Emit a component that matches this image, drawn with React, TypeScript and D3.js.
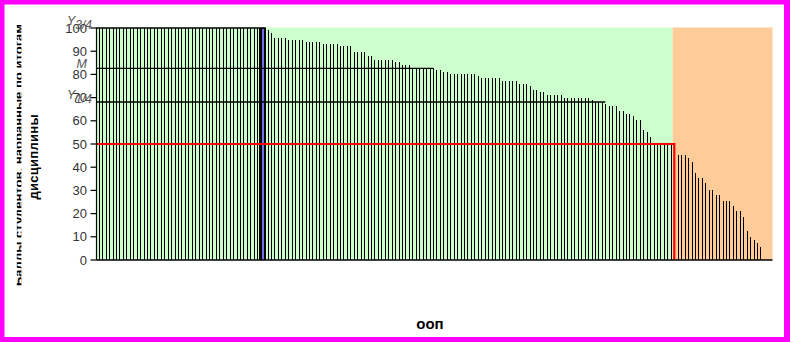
import React from "react";
import * as d3 from "d3";

// ---- data ----
const nCategories = 196;
// runs of [value, count], in order (sorted descending)
const valueRuns: [number, number][] = [
  [100, 49], [99, 1], [98, 1], [95.8, 4], [94.8, 5], [94.0, 5], [93.1, 5], [92.2, 4],
  [89.7, 4], [87.9, 2], [86.2, 6], [85.3, 2], [84.2, 3], [82.8, 7], [81.9, 2], [81.0, 2],
  [80.2, 8], [79.3, 1], [78.4, 6], [77.3, 5], [75.9, 3], [75.0, 1], [73.3, 2], [72.4, 2],
  [71.1, 5], [69.8, 8], [69.0, 1], [68.1, 3], [67.2, 1], [66.4, 3], [64.2, 2], [62.9, 2],
  [62.1, 1], [60.3, 2], [56.0, 1], [55.2, 1], [53.0, 1], [50, 6], [47.0, 1], [45.3, 3],
  [44.0, 1], [42.2, 1], [37.5, 1], [35.3, 2], [33.2, 1], [30.2, 2], [28.0, 2], [25.4, 3],
  [23.3, 1], [21.1, 2], [18.5, 1], [12.5, 1], [9.9, 1], [8.6, 1], [7.3, 1], [5.6, 1],
];
const scores: number[] = valueRuns.flatMap(([v, c]) => Array(c).fill(v));
const highlightIndices = [47, 48];
const yTicks = [0, 10, 20, 30, 40, 50, 60, 70, 80, 90, 100];
const passScore = 50;
const firstFailIndex = 167;
const quartileLines = [
  { label: "Y", sub: "3/4", value: 100, endIndex: 49 },
  { label: "M", sub: "", value: 82.6, endIndex: 97.5 },
  { label: "Y", sub: "1/4", value: 68.1, endIndex: 147.5 },
];
const yTitleLine1 = "Баллы студентов, набранные по итогам";
const yTitleLine2 = "дисциплины";
const xTitle = "ооп";

export default function App() {
  const W = 790, H = 342;
  const left = 96.5, right = 772.5, top = 27.5, bottom = 260;
  const idx = d3.range(nCategories);
  const xBand = d3.scaleBand<number>().domain(idx).range([left + 0.5, right]).paddingInner(0).paddingOuter(0);
  const xLin = d3.scaleLinear().domain([0, nCategories]).range([left + 0.5, right]);
  const y = d3.scaleLinear().domain([0, 100]).range([bottom, 28]);
  const bw = xBand.bandwidth();
  const cx = (i: number) => (xBand(i) as number) + bw / 2;
  const failX = xBand(firstFailIndex) as number;
  const redPath = d3.line()([
    [left, y(passScore)],
    [cx(firstFailIndex), y(passScore)],
    [cx(firstFailIndex), y(0)],
  ]) as string;
  const font = "'Liberation Sans', Arial, sans-serif";

  return (
    <svg width={W} height={H} style={{ position: "fixed", left: 0, top: 0, background: "#fff" }}>
      <defs>
        <clipPath id="t1clip">
          <rect x={16.8} y={0} width={4.6} height={H} />
        </clipPath>
      </defs>
      <rect x={0} y={0} width={W} height={H} fill="#fff" />
      {/* backgrounds */}
      <rect x={left} y={top} width={failX - left} height={bottom - top} fill="#CCFFCC" />
      <rect x={failX} y={top} width={right - failX} height={bottom - top} fill="#FFCC99" />
      {/* bars */}
      <g shapeRendering="crispEdges">
        {scores.map((v, i) => (
          <rect key={i} x={Math.round(cx(i)) - 0.5} y={y(v)} width={1.2} height={y(0) - y(v)} fill="#000" />
        ))}
        {highlightIndices.length > 0 && (
          <rect
            x={xBand(highlightIndices[0]) as number}
            y={y(d3.max(highlightIndices, (i) => scores[i]) as number)}
            width={bw * highlightIndices.length}
            height={y(0) - y(100)}
            fill="#000"
          />
        )}
        {highlightIndices.length > 0 && (
          <rect
            x={(xBand(highlightIndices[highlightIndices.length - 1]) as number) - 0.5}
            y={y(100) + 1}
            width={1.6}
            height={y(0) - y(100) - 1}
            fill="#7070e8"
          />
        )}
      </g>
      {/* quartile lines */}
      {quartileLines.map((q, k) => (
        <line key={k} x1={left} x2={xLin(q.endIndex)} y1={y(q.value)} y2={y(q.value)} stroke="#000" strokeWidth={1.3} />
      ))}
      {/* red pass line */}
      <path d={redPath} fill="none" stroke="#ff0000" strokeWidth={2.2} />
      {/* axes */}
      <line x1={left} x2={right} y1={bottom} y2={bottom} stroke="#000" strokeWidth={1.3} />
      <line x1={left} x2={left} y1={top} y2={bottom} stroke="#000" strokeWidth={1.2} />
      {yTicks.map((t) => (
        <g key={t}>
          <line x1={left - 6} x2={left} y1={y(t)} y2={y(t)} stroke="#000" strokeWidth={1.2} />
          <text x={87} y={y(t)} dy="0.36em" textAnchor="end" fontFamily={font} fontSize={13} fill="#333">
            {t}
          </text>
        </g>
      ))}
      {/* quartile labels */}
      {quartileLines.map((q, k) => (
        <text key={k} x={q.sub ? 67 : 87} y={y(q.value) - (q.sub ? 3 : 0.5)} textAnchor={q.sub ? "start" : "end"}
          fontFamily={font} fontSize={12.5} fontStyle="italic" fill="#555">
          {q.label}
          {q.sub && <tspan dy={4} fontSize={12}>{q.sub}</tspan>}
        </text>
      ))}
      {/* axis titles */}
      <g clipPath="url(#t1clip)">
        <text transform="translate(22.5,155) rotate(-90)" textAnchor="middle" fontFamily={font} fontWeight="bold"
          fontSize={13} fill="#000" textLength={262} lengthAdjust="spacing">
          {yTitleLine1}
        </text>
      </g>
      <text transform="translate(37.5,157) rotate(-90)" textAnchor="middle" fontFamily={font} fontWeight="bold"
        fontSize={13} fill="#000" textLength={85} lengthAdjust="spacing">
        {yTitleLine2}
      </text>
      <text x={430} y={329} textAnchor="middle" fontFamily={font} fontWeight="bold" fontSize={15}
        fill="#000">
        {xTitle}
      </text>
      {/* magenta frame */}
      <rect x={0} y={0} width={W} height={4.5} fill="#FF00FF" />
      <rect x={0} y={H - 5} width={W} height={5} fill="#FF00FF" />
      <rect x={0} y={0} width={4.5} height={H} fill="#FF00FF" />
      <rect x={W - 6} y={0} width={6} height={H} fill="#FF00FF" />
    </svg>
  );
}
